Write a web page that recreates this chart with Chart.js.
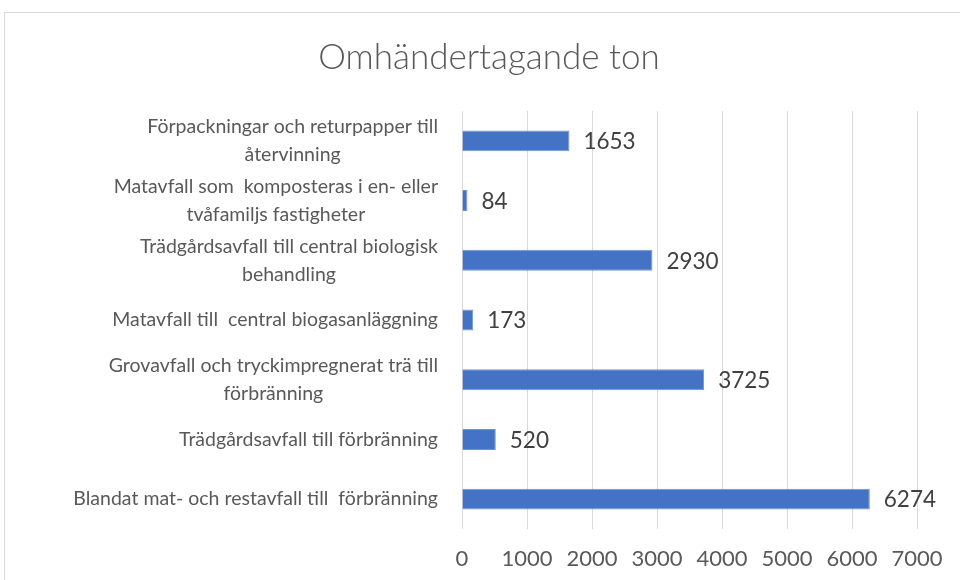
<!DOCTYPE html>
<html>
<head>
<meta charset="utf-8">
<script src="https://cdn.jsdelivr.net/npm/chart.js@4"></script>
<style>
  html, body { margin: 0; padding: 0; background: #fff; overflow: hidden; }
  #wrap { position: relative; width: 960px; height: 580px; }
  #frame { position: absolute; left: 4px; top: 12px; width: 1000px; height: 1000px;
           border: 1px solid #d9d9d9; pointer-events: none; }
</style>
</head>
<body>
<div id="wrap">
  <canvas id="wasteChart" width="960" height="580"></canvas>
  <div id="frame"></div>
</div>
<script>
// kategorier (uppifrån och ned), varje rad = en textrad
const categories = [
    ["Förpackningar och returpapper till", "återvinning"],
    ["Matavfall som  komposteras i en- eller", "tvåfamiljs fastigheter"],
    ["Trädgårdsavfall till central biologisk", "behandling"],
    ["Matavfall till  central biogasanläggning"],
    ["Grovavfall och tryckimpregnerat trä till", "förbränning"],
    ["Trädgårdsavfall till förbränning"],
    ["Blandat mat- och restavfall till  förbränning"]
];
const tonValues = [1653, 84, 2930, 173, 3725, 520, 6274];
const xTicks = [0, 1000, 2000, 3000, 4000, 5000, 6000, 7000];
const chartTitle = "Omhändertagande ton";

const FONT = "Lato, 'Liberation Sans', sans-serif";

// ritar kategoritexterna: raderna centrerade mot varandra, blocket högerställt
const categoryLabels = {
    id: 'categoryLabels',
    afterDraw(chart) {
        const ctx = chart.ctx;
        const yScale = chart.scales.y;
        const right = yScale.right - 24;
        const lineH = 28;
        ctx.save();
        ctx.font = "19.5px " + FONT;
        ctx.fillStyle = "#595959";
        ctx.textAlign = "center";
        ctx.textBaseline = "middle";
        categories.forEach((lines, i) => {
            const y = yScale.getPixelForTick(i);
            const w = Math.max(...lines.map(l => ctx.measureText(l).width));
            const cx = right - w / 2;
            const y0 = y - (lines.length - 1) * lineH / 2;
            lines.forEach((l, j) => ctx.fillText(l, cx, y0 + j * lineH));
        });
        ctx.restore();
    }
};

// värden till höger om staplarna
const valueLabels = {
    id: 'valueLabels',
    afterDatasetsDraw(chart) {
        const ctx = chart.ctx;
        const meta = chart.getDatasetMeta(0);
        ctx.save();
        ctx.font = "22.5px " + FONT;
        ctx.fillStyle = "#404040";
        ctx.textAlign = "left";
        ctx.textBaseline = "middle";
        meta.data.forEach((bar, i) => {
            ctx.fillText(String(tonValues[i]), bar.x + 14, bar.y + 1);
        });
        ctx.restore();
    }
};

const ctx = document.getElementById('wasteChart').getContext('2d');
new Chart(ctx, {
    type: 'bar',
    data: {
        labels: categories.map(c => c.join(" ")),
        datasets: [{
            label: 'ton',
            data: tonValues,
            backgroundColor: '#4472C4',
            borderColor: '#7093d3',
            borderWidth: 1,
            barPercentage: 0.35,
            categoryPercentage: 1
        }]
    },
    options: {
        indexAxis: 'y',
        responsive: false,
        animation: false,
        layout: { padding: { left: 61, right: 43, top: 0, bottom: 0 } },
        plugins: {
            legend: { display: false },
            tooltip: { enabled: false },
            title: {
                display: true,
                text: chartTitle,
                color: '#595959',
                font: { family: FONT, size: 35, weight: '300' },
                padding: { top: 37, bottom: 32 }
            }
        },
        scales: {
            x: {
                min: 0,
                max: 7000,
                afterBuildTicks: (scale) => { scale.ticks = xTicks.map(v => ({ value: v })); },
                grid: { color: '#d9d9d9', drawTicks: false },
                border: { display: false },
                ticks: {
                    color: '#595959',
                    font: { family: FONT, size: 22 },
                    padding: 17,
                    callback: (v) => String(v)
                },
                afterFit: (scale) => { scale.height = 51; }
            },
            y: {
                grid: { display: false },
                border: { display: false },
                ticks: { display: false },
                afterFit: (scale) => { scale.width = 401; }
            }
        }
    },
    plugins: [categoryLabels, valueLabels]
});
</script>
</body>
</html>
